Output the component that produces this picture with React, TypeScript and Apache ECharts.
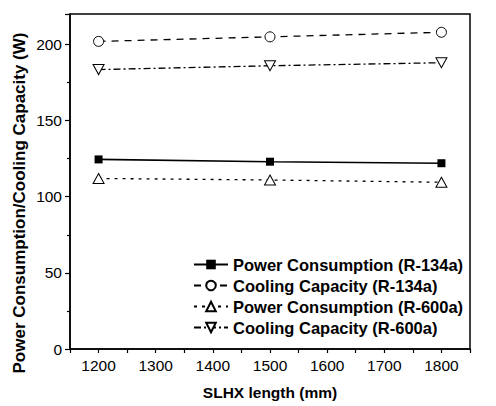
import React, { useEffect, useRef } from "react";
import * as echarts from "echarts";

const lengths = [1200, 1500, 1800];
const powerR134a = [124.5, 123, 122];
const coolingR134a = [202, 205, 208];
const powerR600a = [112, 111, 109.5];
const coolingR600a = [183.5, 186, 188];
const seriesNames = [
  "Power Consumption (R-134a)",
  "Cooling Capacity (R-134a)",
  "Power Consumption (R-600a)",
  "Cooling Capacity (R-600a)",
];

const FONT = "'Liberation Sans', Arial, sans-serif";
const downTri = "path://M0,0 L10,0 L5,9 Z";
const upTri = "path://M5,0 L10,9 L0,9 Z";

const pairs = (ys: number[]) => lengths.map((x, i) => [x, ys[i]]);

export default function App() {
  const ref = useRef<HTMLDivElement>(null);
  useEffect(() => {
    if (!ref.current) return;
    const chart = echarts.init(ref.current, undefined, { renderer: "svg" });
    const openStyle = { color: "#fff", borderColor: "#000", borderWidth: 1 };
    chart.setOption({
      animation: false,
      backgroundColor: "#fff",
      grid: {
        left: 70,
        right: 26,
        top: 14,
        bottom: 57,
        show: true,
        borderColor: "#000",
        borderWidth: 1.5,
      },
      legend: {
        orient: "vertical",
        left: 193,
        top: 256,
        padding: 0,
        itemWidth: 34,
        itemHeight: 12,
        itemGap: 4,
        data: seriesNames,
        textStyle: { fontFamily: FONT, fontWeight: "bold", fontSize: 16.5, color: "#000" },
      },
      xAxis: {
        type: "value",
        min: 1150,
        max: 1850,
        interval: 50,
        name: "SLHX length (mm)",
        nameLocation: "middle",
        nameGap: 35,
        nameTextStyle: { fontFamily: FONT, fontWeight: "bold", fontSize: 15.5, color: "#000" },
        axisLine: { show: true, lineStyle: { color: "#000", width: 1.5 } },
        axisTick: { show: true, length: 4, lineStyle: { color: "#000", width: 1.2 } },
        splitLine: { show: false },
        axisLabel: {
          fontFamily: FONT,
          fontSize: 15.5,
          color: "#000",
          margin: 8,
          formatter: (v: number) => (v % 100 === 0 ? String(v) : ""),
        },
      },
      yAxis: {
        type: "value",
        min: 0,
        max: 220,
        interval: 50,
        axisLine: { show: true, lineStyle: { color: "#000", width: 1.5 } },
        axisTick: { show: true, length: 5, lineStyle: { color: "#000", width: 1.2 } },
        minorTick: { show: true, splitNumber: 2, length: 3, lineStyle: { color: "#000", width: 1.2 } },
        splitLine: { show: false },
        axisLabel: {
          fontFamily: FONT,
          fontSize: 15.5,
          color: "#000",
          margin: 8,
          showMaxLabel: false,
        },
      },
      graphic: [
        {
          type: "text",
          x: 19,
          y: 203,
          rotation: Math.PI / 2,
          style: {
            text: "Power Consumption/Cooling Capacity (W)",
            fontFamily: FONT,
            fontWeight: "bold",
            fontSize: 17,
            fill: "#000",
            align: "center",
            verticalAlign: "middle",
          },
        },
      ],
      series: [
        {
          name: seriesNames[0],
          type: "line",
          data: pairs(powerR134a),
          symbol: "rect",
          symbolSize: 8,
          itemStyle: { color: "#000" },
          lineStyle: { color: "#000", width: 1.6, type: "solid" },
        },
        {
          name: seriesNames[1],
          type: "line",
          data: pairs(coolingR134a),
          symbol: "circle",
          symbolSize: 10,
          itemStyle: openStyle,
          lineStyle: { color: "#000", width: 1.3, type: [7, 6] },
        },
        {
          name: seriesNames[2],
          type: "line",
          data: pairs(powerR600a),
          symbol: upTri,
          symbolSize: [11, 10],
          itemStyle: openStyle,
          lineStyle: { color: "#000", width: 1.3, type: [3, 5] },
        },
        {
          name: seriesNames[3],
          type: "line",
          data: pairs(coolingR600a),
          symbol: downTri,
          symbolSize: [11, 10],
          itemStyle: openStyle,
          lineStyle: { color: "#000", width: 1.3, type: [7, 3, 2, 3] },
        },
      ],
    });
    return () => chart.dispose();
  }, []);
  return <div ref={ref} style={{ width: 496, height: 406, position: "absolute", left: 0, top: 0 }} />;
}
